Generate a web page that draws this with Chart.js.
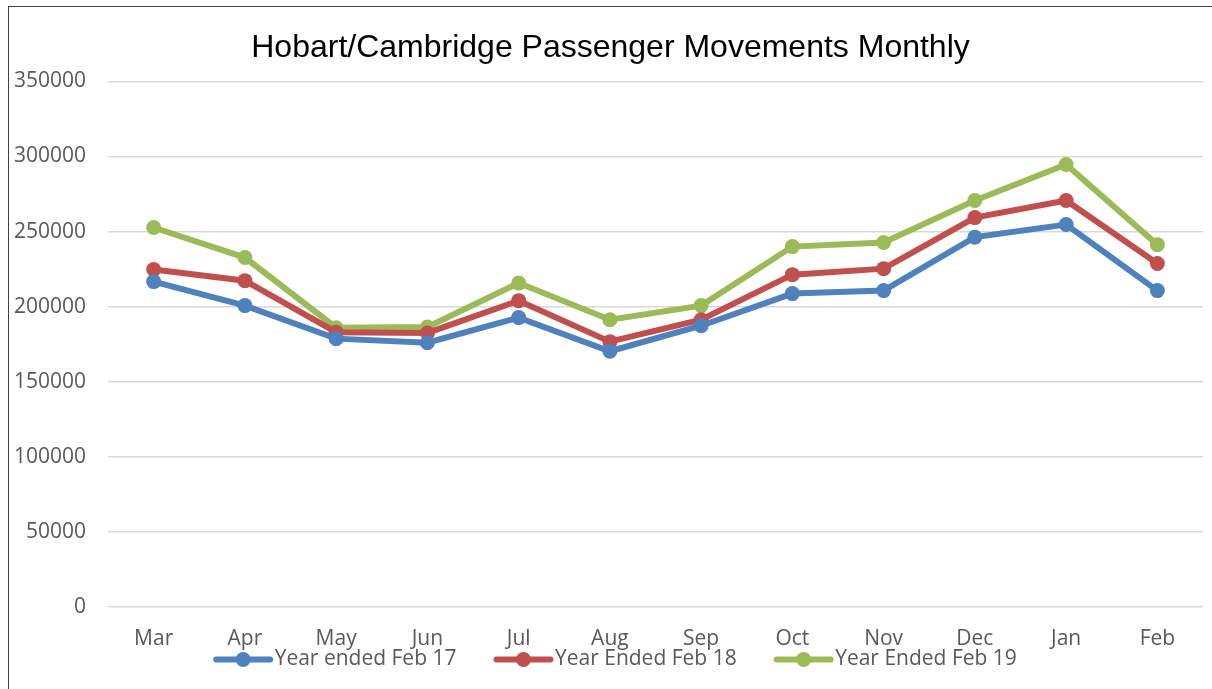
<!DOCTYPE html>
<html lang="en">
<head>
    <meta charset="UTF-8">
    <title>Hobart/Cambridge Passenger Movements Monthly</title>
    <script src="https://cdn.jsdelivr.net/npm/chart.js"></script>
    <style>
        html, body { margin: 0; padding: 0; background: #fff; overflow: hidden; }
        #frame {
            position: absolute;
            left: 8px; top: 6px;
            width: 1220px; height: 700px;
            border-left: 1px solid #404040;
            border-top: 1px solid #404040;
        }
        #wrap { position: absolute; left: 0; top: 0; width: 1212px; height: 689px; }
    </style>
</head>
<body>
    <div id="frame"></div>
    <div id="wrap"><canvas id="chart"></canvas></div>
    <script>
        const months = ['Mar', 'Apr', 'May', 'Jun', 'Jul', 'Aug', 'Sep', 'Oct', 'Nov', 'Dec', 'Jan', 'Feb'];
        const yearFeb17 = [216700, 200700, 178700, 176000, 192700, 170300, 187300, 208700, 210700, 246300, 254700, 210700];
        const yearFeb18 = [224700, 217300, 183000, 182500, 204000, 176700, 191300, 221300, 225300, 259300, 270700, 228700];
        const yearFeb19 = [252700, 232700, 186000, 186500, 215700, 191300, 200700, 240000, 242700, 270700, 294700, 241300];
        const seriesNames = ['Year ended Feb 17', 'Year Ended Feb 18', 'Year Ended Feb 19'];
        const seriesColors = ['#4F81BD', '#C0504D', '#9BBB59'];

        const seriesValues = [yearFeb17, yearFeb18, yearFeb19];
        const datasets = seriesValues.map((vals, i) => ({
            label: seriesNames[i],
            data: vals,
            borderColor: seriesColors[i],
            backgroundColor: seriesColors[i],
            borderWidth: 6,
            pointRadius: 7.5,
            pointHoverRadius: 7.5,
            pointBorderWidth: 0,
            tension: 0
        }));

        // legend box is wider than the symbol so the items sit further apart;
        // the symbol (line with a dot) is drawn at the right end of the box
        const LEGEND_BOX = 88;
        const SYMBOL_W = 54;
        const LEGEND_DX = -1;
        const LEGEND_DY = -23;
        const TITLE_DX = 13;
        const nudge = {
            id: 'nudge',
            afterUpdate(chart) {
                // tuck the legend under the axis labels and re-centre the title like Excel
                const lg = chart.legend;
                if (lg && lg.legendHitBoxes) {
                    lg.left += LEGEND_DX; lg.right += LEGEND_DX;
                    lg.top += LEGEND_DY; lg.bottom += LEGEND_DY;
                    lg.legendHitBoxes.forEach(b => { b.left += LEGEND_DX; b.top += LEGEND_DY; });
                }
                const tb = chart.titleBlock;
                if (tb) { tb.left += TITLE_DX; tb.right += TITLE_DX; }
            },
            afterDraw(chart) {
                const legend = chart.legend;
                if (!legend || !legend.legendHitBoxes) return;
                const ctx = chart.ctx;
                legend.legendHitBoxes.forEach((box, i) => {
                    const color = seriesColors[i];
                    const y = box.top + box.height / 2;
                    const x1 = box.left + LEGEND_BOX + 6;
                    const x0 = x1 - SYMBOL_W;
                    ctx.save();
                    ctx.strokeStyle = color;
                    ctx.lineWidth = 6;
                    ctx.lineCap = 'round';
                    ctx.beginPath();
                    ctx.moveTo(x0, y);
                    ctx.lineTo(x1, y);
                    ctx.stroke();
                    ctx.fillStyle = color;
                    ctx.beginPath();
                    ctx.arc((x0 + x1) / 2, y, 7.5, 0, Math.PI * 2);
                    ctx.fill();
                    ctx.restore();
                });
            }
        };

        new Chart(document.getElementById('chart'), {
            type: 'line',
            data: { labels: months, datasets: datasets },
            plugins: [nudge],
            options: {
                responsive: true,
                maintainAspectRatio: false,
                animation: false,
                layout: { padding: { left: -8, right: 9, top: 0, bottom: -14 } },
                plugins: {
                    title: {
                        display: true,
                        text: 'Hobart/Cambridge Passenger Movements Monthly',
                        color: '#000',
                        font: { family: 'Liberation Sans', size: 32, weight: 'normal' },
                        padding: { top: 29, bottom: 14 }
                    },
                    legend: {
                        position: 'bottom',
                        labels: {
                            color: '#595959',
                            font: { family: 'Open Sans', size: 21 },
                            boxWidth: LEGEND_BOX,
                            boxHeight: 0,
                            padding: 0,
                            generateLabels(chart) {
                                return chart.data.datasets.map((ds, i) => ({
                                    text: ds.label,
                                    fillStyle: 'rgba(0,0,0,0)',
                                    strokeStyle: 'rgba(0,0,0,0)',
                                    lineWidth: 0,
                                    datasetIndex: i,
                                    fontColor: '#595959'
                                }));
                            }
                        }
                    },
                    tooltip: { enabled: false }
                },
                scales: {
                    x: {
                        offset: true,
                        grid: { display: false, drawTicks: false },
                        border: { display: false },
                        ticks: {
                            color: '#595959',
                            font: { family: 'Open Sans', size: 21, lineHeight: 1 },
                            padding: 22,
                            maxRotation: 0
                        }
                    },
                    y: {
                        min: 0,
                        max: 350000,
                        grid: { color: '#d9d9d9', lineWidth: 1.5, drawTicks: false },
                        border: { display: false },
                        ticks: {
                            stepSize: 50000,
                            color: '#595959',
                            font: { family: 'Open Sans', size: 21 },
                            padding: 22,
                            callback: v => String(v)
                        }
                    }
                }
            }
        });
    </script>
</body>
</html>
